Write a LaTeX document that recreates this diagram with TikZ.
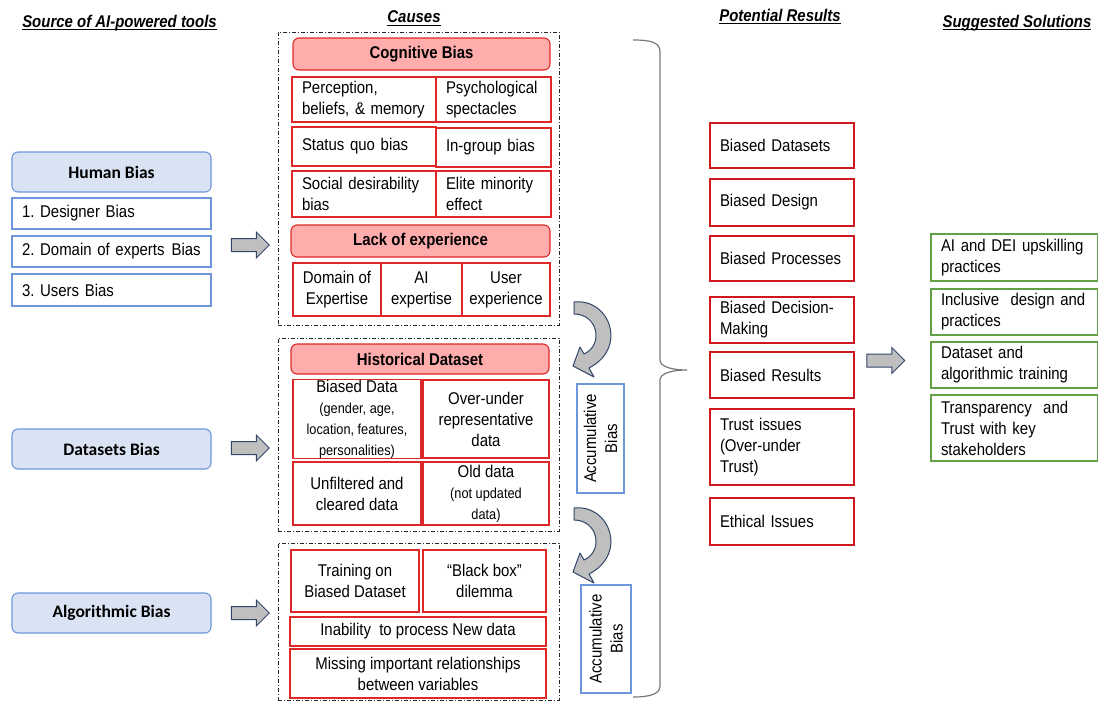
\documentclass[tikz,border=0pt]{standalone}
\usepackage{fontspec}
\setmainfont{Liberation Sans}[FakeStretch=0.88]
\newfontfamily\carl{Carlito}
\usetikzlibrary{shapes.arrows}
\definecolor{pinkf}{RGB}{255,172,172}
\definecolor{redl}{RGB}{222,40,40}
\definecolor{redr}{RGB}{205,25,30}
\definecolor{bluef}{RGB}{218,227,243}
\definecolor{bluel}{RGB}{110,150,220}
\definecolor{greenl}{RGB}{100,160,70}
\definecolor{arrf}{RGB}{191,191,191}
\definecolor{arrl}{RGB}{50,70,105}
\definecolor{bracec}{RGB}{120,120,120}
\newcommand\fs{\fontsize{17}{21}\selectfont}
\newcommand\sm{\fontsize{14.5}{17.5}\selectfont}
\frenchspacing
\begin{document}
\frenchspacing
\begin{tikzpicture}[x=1pt,y=-1pt,
  every node/.style={font=\fs, inner sep=0pt, outer sep=0pt},
  sz/.style 2 args={minimum width=#1pt, minimum height=#2pt},
  ttl/.style={font=\fs\bfseries\itshape},
  uline/.style={line width=1pt},
  lt/.style={inner xsep=10pt, align=left, text width=#1pt},
  lt2/.style={inner xsep=3pt, align=left, text width=#1pt},
  ct/.style={align=center},
  bluehead/.style={draw=bluel, fill=bluef, line width=1.1pt, rounded corners=6pt, font=\carl\fontsize{17.5}{21}\selectfont\bfseries},
  bluebox/.style={draw=bluel, line width=1.1pt},
  redhead/.style={draw=redl, fill=pinkf, line width=1.1pt, rounded corners=6pt, font=\fs\bfseries},
  redbox/.style={draw=redl, line width=1.1pt},
  resbox/.style={draw=redr, line width=1.7pt},
  solbox/.style={draw=greenl, line width=1.7pt},
  accbox/.style={draw=bluel, line width=1.1pt, rotate=90, align=center},
  ddbox/.style={draw=black!85, line width=0.8pt, dash pattern=on 4pt off 2pt on 1pt off 2pt},
  barrow/.style={single arrow, draw=arrl, fill=arrf, line width=1pt, minimum height=38pt, minimum width=25pt, single arrow head extend=6.5pt, inner sep=6pt},
  carrow/.style={draw=arrl, fill=arrf, line width=1pt, line join=round},
  brace/.style={draw=bracec, line width=1.2pt}
]
\useasboundingbox (0,0) rectangle (1098,702);

% titles
\node[ttl] (t1) at (119.5,23) {Source of AI-powered tools};
\node[ttl] (t2) at (414,17) {Causes};
\node[ttl] (t3) at (780,15) {Potential Results};
\node[ttl] (t4) at (1017,23) {Suggested Solutions};
\foreach \t in {t1,t2,t3,t4}
  \draw[uline] ([yshift=-2.2pt]\t.base west) -- ([yshift=-2.2pt]\t.base east);

% left column
\node[bluehead, sz={199}{40}] (hb) at (111.5,172) {Human Bias};
\node[bluebox, sz={199}{31}, lt2=193] (d1) at (111.5,213.5) {\hspace*{7pt}1. Designer Bias};
\node[bluebox, sz={199}{31}, lt2=193] (d2) at (111.5,251.5) {\hspace*{7pt}2. Domain of experts\hspace{7pt}Bias};
\node[bluebox, sz={199}{32}, lt2=193] (d3) at (111.5,290) {\hspace*{7pt}3. Users Bias};
\node[bluehead, sz={199}{40}] (db) at (111.5,449) {Datasets Bias};
\node[bluehead, sz={199}{40}] (ab) at (111.5,613) {Algorithmic Bias};

\node[barrow] (a1) at (247,245) {};
\node[barrow] (a2) at (247,448) {};
\node[barrow] (a3) at (247,613) {};

% causes: dash-dot frames
\node[ddbox, sz={281}{293}] (c1) at (418.5,178.5) {};
\node[ddbox, sz={281}{193}] (c2) at (418.5,434.5) {};
\node[ddbox, sz={281}{157}] (c3) at (418.5,621.5) {};

% cognitive bias
\node[redhead, sz={257}{32}] (cog) at (421.5,54) {Cognitive Bias};
\node[redbox, sz={142}{45}, lt=124] (per) at (364,99.5) {Perception,\\beliefs, \& memory};
\node[redbox, sz={113}{45}, lt=95] (psy) at (493.5,99.5) {Psychological\\spectacles};
\node[redbox, sz={142}{39}, lt=124] (sq) at (364,146.5) {Status quo bias};
\node[redbox, sz={113}{39}, lt=95] (ing) at (493.5,147.5) {In-group bias};
\node[redbox, sz={142}{46}, lt=124] (soc) at (364,194) {Social desirability\\bias};
\node[redbox, sz={113}{46}, lt=95] (eli) at (493.5,194) {Elite minority\\effect};
\node[redhead, sz={259}{32}] (lack) at (420.5,241) {Lack of experience};
\node[redbox, sz={88}{53}, ct] (dom) at (337,289.5) {Domain of\\Expertise};
\node[redbox, sz={81}{53}, ct] (aie) at (421.5,289.5) {AI\\expertise};
\node[redbox, sz={88}{53}, ct] (ue) at (506,289.5) {User\\experience};

% historical dataset
\node[redhead, sz={258}{30}] (hist) at (420,359) {Historical Dataset};
\node[redbox, sz={128}{78}, ct] (bd) at (357,419) {Biased Data\\\sm (gender, age,\\\sm location, features,\\\sm personalities)};
\node[redbox, sz={126}{78}, ct] (ou) at (486,419) {Over-under\\representative\\data};
\node[redbox, sz={128}{63}, ct] (unf) at (357,493.5) {Unfiltered and\\cleared data};
\node[redbox, sz={126}{63}, ct] (old) at (486,493.5) {Old data\\\sm (not updated\\\sm data)};

% algorithmic
\node[redbox, sz={128}{62}, ct] (tr) at (355,581) {Training on\\Biased Dataset};
\node[redbox, sz={123}{62}, ct] (bb) at (484.5,581) {“Black box”\\dilemma};
\node[redbox, sz={256}{29}, ct] (inab) at (418,631.5) {Inability\ \ to process New data};
\node[redbox, sz={256}{49}, ct] (miss) at (418,673.5) {Missing important relationships\\between variables};

% curved arrows
\foreach \dy in {0,206} {
  \begin{scope}[shift={(0,\dy)}]
    \draw[carrow] (574,302) .. controls (610,298) and (628,348) .. (589,368)
      -- (594,377) -- (573,366) -- (580,347) -- (584,354)
      .. controls (604,345) and (598,314) .. (574,314) -- cycle;
  \end{scope}
}

% accumulative bias
\node[accbox, sz={109}{47}] (acc1) at (600.5,438.5) {Accumulative\\Bias};
\node[accbox, sz={108}{50}] (acc2) at (606,639) {Accumulative\\Bias};

% brace
\draw[brace] (633,40) .. controls (650,40) and (660,42) .. (660,52) -- (660,360)
  .. controls (660,366) and (670,370) .. (687,370)
  .. controls (670,370) and (660,374) .. (660,380) -- (660,686)
  .. controls (660,694) and (650,697) .. (633,697);

% potential results
\node[resbox, sz={142}{45}, lt=124] (r1) at (782,145.5) {Biased Datasets};
\node[resbox, sz={142}{47}, lt=124] (r2) at (782,202.5) {Biased Design};
\node[resbox, sz={142}{45}, lt=124] (r3) at (782,258.5) {Biased Processes};
\node[resbox, sz={142}{46}, lt=124] (r4) at (782,320) {Biased Decision-\\Making};
\node[resbox, sz={142}{46}, lt=124] (r5) at (782,375) {Biased Results};
\node[resbox, sz={142}{76}, lt=124] (r6) at (782,447) {Trust issues\\(Over-under\\Trust)};
\node[resbox, sz={142}{47}, lt=124] (r7) at (782,521.5) {Ethical Issues};

\node[barrow] (a4) at (882.5,360.5) {};

% suggested solutions
\node[solbox, sz={165}{47}, lt=147] (s1) at (1014.5,257.5) {AI and DEI upskilling\\practices};
\node[solbox, sz={165}{46}, lt=147] (s2) at (1014.5,312) {Inclusive\ \ design and\\practices};
\node[solbox, sz={165}{46}, lt=147] (s3) at (1014.5,365) {Dataset and\\algorithmic training};
\node[solbox, sz={165}{66}, lt=147] (s4) at (1014.5,428) {Transparency\ \ and\\Trust with key\\stakeholders};
\end{tikzpicture}
\end{document}
